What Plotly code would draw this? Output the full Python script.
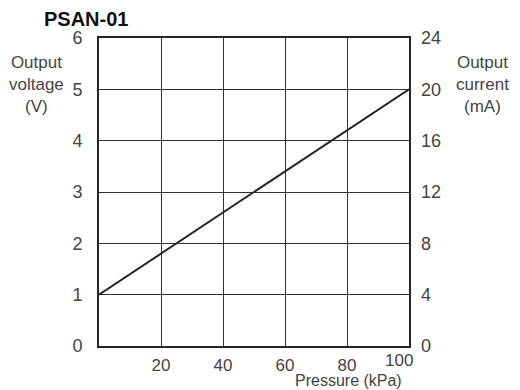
import plotly.graph_objects as go

pressure = [0, 100]
voltage = [1, 5]
x_ticks = [20, 40, 60, 80, 100]
y_ticks = [0, 1, 2, 3, 4, 5, 6]
y2_ticks = [0, 4, 8, 12, 16, 20, 24]

FONT = "Liberation Sans, Arial, sans-serif"
TXT = "#444444"
LINE = "#262626"
GRID = "#333333"

W, H = 520, 390
l, r, t, b = 99, 111, 38, 44
pw, ph = W - l - r, H - t - b
def px(xp):
    return (xp - l) / pw
def py(yp):
    return (H - b - yp) / ph

fig = go.Figure()
fig.add_trace(go.Scatter(x=pressure, y=voltage, mode="lines",
                         line=dict(color=LINE, width=2), showlegend=False,
                         hoverinfo="skip"))
fig.add_trace(go.Scatter(x=pressure, y=[v * 4 for v in voltage], yaxis="y2",
                         mode="lines", line=dict(width=0), opacity=0,
                         showlegend=False, hoverinfo="skip"))

def ann(text, xp, yp, size=17, color=TXT):
    return dict(text=text, x=px(xp), y=py(yp), xref="paper", yref="paper",
                xanchor="center", yanchor="middle", align="center",
                showarrow=False, font=dict(size=size, color=color, family=FONT))

# last x tick label is nudged left (as in the reference) so it clears the right axis "0"
last_tick = dict(text=str(x_ticks[-1]), x=x_ticks[-1], xref="x", y=0, yref="paper",
                 xanchor="center", yanchor="top", yshift=-4, xshift=-10,
                 borderpad=0, showarrow=False,
                 font=dict(size=17, color=TXT, family=FONT))

fig.update_layout(
    width=W, height=H,
    margin=dict(l=l, r=r, t=t, b=b),
    paper_bgcolor="white", plot_bgcolor="white",
    font=dict(family=FONT, size=18, color=TXT),
    xaxis=dict(range=[0, 100], tickvals=x_ticks[:-1], ticks="", showgrid=True,
               gridcolor=GRID, gridwidth=1.2, showline=True, linecolor=LINE,
               linewidth=2, mirror=True, zeroline=False, ticklabelstandoff=3,
               tickfont=dict(size=17, color=TXT)),
    yaxis=dict(range=[0, 6], tickvals=y_ticks, ticks="", showgrid=True,
               gridcolor=GRID, gridwidth=1.2, showline=True, linecolor=LINE,
               linewidth=2, mirror=True, zeroline=False, ticklabelstandoff=11,
               tickfont=dict(size=18, color=TXT)),
    yaxis2=dict(range=[0, 24], tickvals=y2_ticks, overlaying="y", side="right",
                ticks="", showgrid=False, zeroline=False, showline=False,
                ticklabelstandoff=11, tickfont=dict(size=18, color=TXT)),
    annotations=[
        ann("<b>PSAN-01</b>", 86, 19, size=20, color="#111111"),
        ann("Output<br>voltage<br>(V)", 36, 84, size=17),
        ann("Output<br>current<br>(mA)", 482, 84, size=17),
        dict(ann("Pressure (kPa)", 348, 381, size=16), borderpad=0),
        last_tick,
    ],
)

fig.write_html("out.html", config={"displayModeBar": False},
               post_script="document.body.style.margin='0';document.body.style.padding='0';")
